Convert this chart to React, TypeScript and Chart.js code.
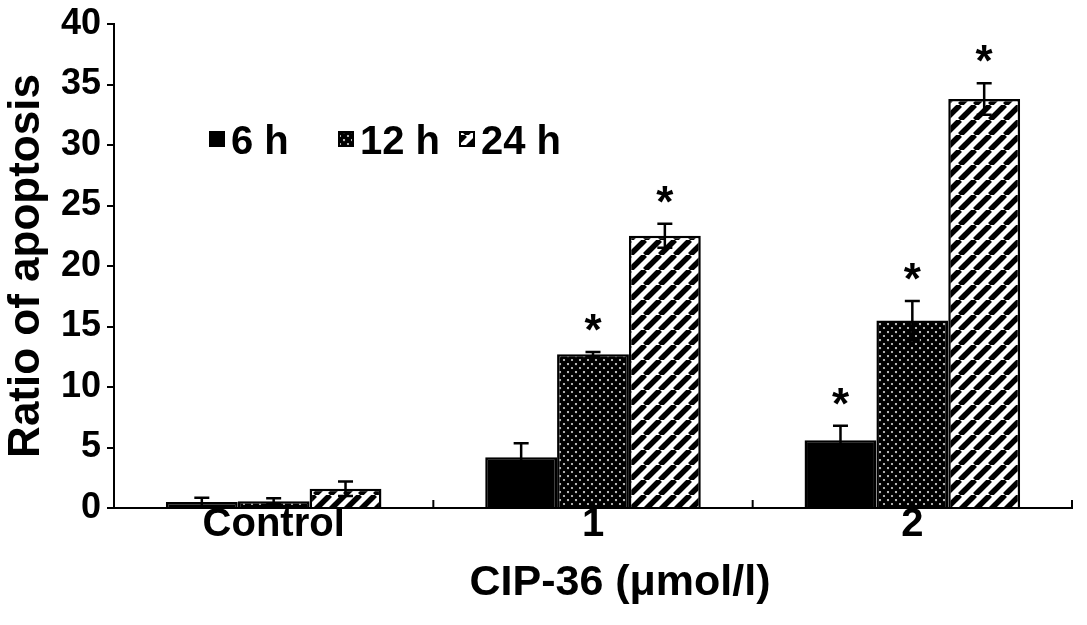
import React, { useEffect, useRef } from "react";
import { Chart, registerables } from "chart.js";

Chart.register(...registerables);

const categories = ["Control", "1", "2"];
const seriesLabels = ["6 h", "12 h", "24 h"];
const values6h = [0.5, 4.2, 5.6];
const errors6h = [0.35, 1.15, 1.2];
const values12h = [0.55, 12.7, 15.5];
const errors12h = [0.25, 0.2, 1.6];
const values24h = [1.6, 22.5, 33.8];
const errors24h = [0.6, 1.0, 1.3];
const stars6h = [false, false, true];
const stars12h = [false, true, true];
const stars24h = [false, true, true];
const yTicks = [0, 5, 10, 15, 20, 25, 30, 35, 40];

const FONT = "'Liberation Sans', Arial, Helvetica, sans-serif";

function makeCrossPattern(): CanvasPattern | string {
  const c = document.createElement("canvas");
  const s = 8;
  c.width = s;
  c.height = s;
  const g = c.getContext("2d");
  if (!g) return "#444";
  g.fillStyle = "#fff";
  g.fillRect(0, 0, s, s);
  g.strokeStyle = "#000";
  g.lineWidth = 4;
  for (const o of [-s, 0, s]) {
    g.beginPath();
    g.moveTo(o, 0);
    g.lineTo(o + s, s);
    g.stroke();
    g.beginPath();
    g.moveTo(o + s, 0);
    g.lineTo(o, s);
    g.stroke();
  }
  const p = g.createPattern(c, "repeat");
  return p || "#444";
}

function makeHatchPattern(): CanvasPattern | string {
  const c = document.createElement("canvas");
  const s = 15;
  c.width = s;
  c.height = s;
  const g = c.getContext("2d");
  if (!g) return "#888";
  g.fillStyle = "#fff";
  g.fillRect(0, 0, s, s);
  g.strokeStyle = "#000";
  g.lineWidth = 5.5;
  for (const o of [-s, 0, s]) {
    g.beginPath();
    g.moveTo(o, s);
    g.lineTo(o + s, 0);
    g.stroke();
  }
  const p = g.createPattern(c, "repeat");
  return p || "#888";
}

export default function App() {
  const ref = useRef<HTMLCanvasElement | null>(null);

  useEffect(() => {
    const canvas = ref.current;
    if (!canvas) return;
    const cross = makeCrossPattern();
    const hatch = makeHatchPattern();
    const fills = ["#000", cross, hatch];
    const errs = [errors6h, errors12h, errors24h];
    const stars = [stars6h, stars12h, stars24h];

    const extras = {
      id: "extras",
      afterDatasetsDraw(chart: any) {
        const ctx = chart.ctx;
        const y = chart.scales.y;
        const x = chart.scales.x;
        const area = chart.chartArea;
        ctx.save();
        chart.data.datasets.forEach((ds: any, di: number) => {
          const meta = chart.getDatasetMeta(di);
          meta.data.forEach((bar: any, i: number) => {
            const v = ds.data[i];
            const e = errs[di][i];
            const top = y.getPixelForValue(v + e);
            const bot = y.getPixelForValue(Math.max(0, v - e));
            ctx.strokeStyle = "#000";
            ctx.lineWidth = 2.5;
            ctx.beginPath();
            ctx.moveTo(bar.x, top);
            ctx.lineTo(bar.x, bot);
            ctx.moveTo(bar.x - 7.5, top);
            ctx.lineTo(bar.x + 7.5, top);
            ctx.moveTo(bar.x - 7.5, bot);
            ctx.lineTo(bar.x + 7.5, bot);
            ctx.stroke();
            if (stars[di][i]) {
              ctx.fillStyle = "#000";
              ctx.font = `bold 44px ${FONT}`;
              ctx.textAlign = "center";
              ctx.textBaseline = "alphabetic";
              ctx.fillText("*", bar.x, top - 7);
            }
          });
        });
        ctx.strokeStyle = "#000";
        ctx.lineWidth = 2;
        for (let i = 0; i < categories.length; i++) {
          const px = x.getPixelForValue(i + 0.5);
          ctx.beginPath();
          ctx.moveTo(px, area.bottom);
          ctx.lineTo(px, area.bottom - 8);
          ctx.stroke();
        }
        const offsets = [96, 225, 346];
        ctx.font = `bold 40px ${FONT}`;
        ctx.textAlign = "left";
        ctx.textBaseline = "alphabetic";
        chart.data.datasets.forEach((ds: any, di: number) => {
          const bx = area.left + offsets[di];
          const by = area.top + 108;
          ctx.fillStyle = fills[di];
          ctx.fillRect(bx, by, 14, 14);
          ctx.strokeStyle = "#000";
          ctx.lineWidth = 2;
          ctx.strokeRect(bx, by, 14, 14);
          ctx.fillStyle = "#000";
          ctx.fillText(ds.label, bx + 21, by + 22);
        });
        ctx.font = `bold 43px ${FONT}`;
        ctx.textAlign = "center";
        ctx.fillText("CIP-36 (\u03bcmol/l)", (area.left + area.right) / 2 + 27, 595);
        ctx.restore();
      },
    };

    const chart = new Chart(canvas, {
      type: "bar",
      data: {
        labels: categories,
        datasets: [
          { label: seriesLabels[0], data: values6h, backgroundColor: fills[0] as any, borderColor: "#000", borderWidth: 2.5 },
          { label: seriesLabels[1], data: values12h, backgroundColor: fills[1] as any, borderColor: "#000", borderWidth: 2.5 },
          { label: seriesLabels[2], data: values24h, backgroundColor: fills[2] as any, borderColor: "#000", borderWidth: 2.5 },
        ],
      },
      options: {
        responsive: false,
        animation: false,
        devicePixelRatio: 1,
        layout: { padding: { top: 24, right: 15, left: 0, bottom: 0 } },
        plugins: { legend: { display: false }, tooltip: { enabled: false } },
        datasets: { bar: { categoryPercentage: 0.675, barPercentage: 1 } },
        scales: {
          x: {
            grid: { display: false },
            border: { display: true, color: "#000", width: 2 },
            ticks: { color: "#000", font: { family: FONT, size: 40, weight: "bold" }, padding: -15, maxRotation: 0 },
            afterFit(s: any) { s.height = 117; s.paddingLeft = 0; s.paddingRight = 0; },
          },
          y: {
            min: 0,
            max: 40,
            afterBuildTicks(s: any) { s.ticks = yTicks.map((v) => ({ value: v })); },
            grid: { display: true, drawOnChartArea: false, drawTicks: true, tickLength: 7, color: "#000", lineWidth: 2 },
            border: { display: true, color: "#000", width: 2 },
            ticks: { color: "#000", font: { family: FONT, size: 36, weight: "bold" }, padding: 6 },
            title: { display: true, text: "Ratio of apoptosis", color: "#000", font: { family: FONT, size: 44, weight: "bold" }, padding: 0 },
            afterFit(s: any) { s.width = 114; s.paddingTop = 0; s.paddingBottom = 0; },
          },
        },
      },
      plugins: [extras],
    });
    return () => chart.destroy();
  }, []);

  return (
    <div style={{ position: "absolute", left: 0, top: 0, width: 1087, height: 625, background: "#fff" }}>
      <canvas ref={ref} width={1087} height={625} style={{ width: 1087, height: 625, display: "block" }} />
    </div>
  );
}
